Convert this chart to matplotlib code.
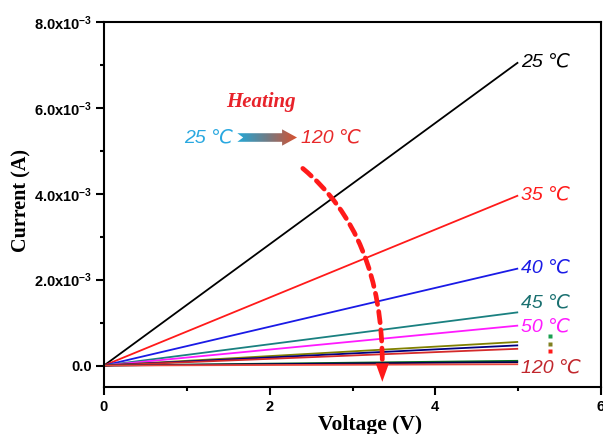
import numpy as np
import matplotlib
matplotlib.use("Agg")
import matplotlib.pyplot as plt
from matplotlib.path import Path
from matplotlib.patches import PathPatch, Polygon
from matplotlib.colors import LinearSegmentedColormap
from matplotlib.ticker import FixedLocator, FuncFormatter

# I-V data (current in A at 0 V and 5 V)
voltage = [0.0, 5.0]
temps = ["25", "35", "40", "45", "50", "55", "60", "70", "80", "100", "120"]
current_at_5v = [7.06e-3, 3.96e-3, 2.26e-3, 1.24e-3, 0.93e-3,
                 0.55e-3, 0.47e-3, 0.39e-3, 0.11e-3, 0.08e-3, 0.03e-3]
line_colors = ["black", "#ff1a1a", "#1a1ae6", "#1a8080", "#ff1aff",
               "#808000", "#000080", "#d42a2a", "#0a6e1e", "#000050", "#e8463c"]

# labels shown at the right end
label_temps = ["25", "35", "40", "45", "50", "120"]
label_y = [7.06e-3, 3.96e-3, 2.26e-3, 1.45e-3, 0.90e-3, -0.05e-3]
label_colors = ["black", "#ff1a1a", "#1a1ae6", "#1a7070", "#ff1aff", "#c1272d"]
dot_y = [0.68e-3, 0.51e-3, 0.35e-3]
dot_colors = ["#1aa050", "#808020", "#ff1a1a"]

sans = ["Liberation Sans", "DejaVu Sans"]
serif = ["Liberation Serif", "DejaVu Serif"]
plt.rcParams["mathtext.default"] = "regular"

fig = plt.figure(figsize=(6.03, 4.34), dpi=100)
ax = fig.add_axes([104 / 603, 1 - 387 / 434, 497 / 603, 365 / 434])

for v5, c in zip(current_at_5v, line_colors):
    ax.plot(voltage, [0.0, v5], color=c, lw=1.3, solid_capstyle="butt")

for t, y, c in zip(label_temps, label_y, label_colors):
    ax.text(5.03, y, t + " \u2103", color=c, fontsize=14, style="italic",
            family=sans, va="center", ha="left")
for y, c in zip(dot_y, dot_colors):
    ax.plot([5.39], [y], marker="s", ms=2.6, color=c, mec="none")

# Heating annotation
ax.text(1.9, 6.13e-3, "Heating", color="#e8222a", fontsize=15, weight="bold",
        style="italic", family=serif, ha="center", va="center")
ax.text(1.56, 5.31e-3, "25 \u2103", color="#29a8e0", fontsize=14, style="italic",
        family=sans, ha="right", va="center")
ax.text(2.38, 5.31e-3, "120 \u2103", color="#e8292a", fontsize=14, style="italic",
        family=sans, ha="left", va="center")

# gradient arrow 25 -> 120
yc = 5.31e-3
x0, xh, x1, notch = 1.61, 2.15, 2.33, 0.07
bh, hh = 0.10e-3, 0.19e-3
arrow_poly = Polygon([(x0, yc + bh), (xh, yc + bh), (xh, yc + hh), (x1, yc),
                      (xh, yc - hh), (xh, yc - bh), (x0, yc - bh), (x0 + notch, yc)],
                     closed=True, facecolor="none", edgecolor="none")
ax.add_patch(arrow_poly)
grad_cmap = LinearSegmentedColormap.from_list("g", ["#22a8d8", "#707c86", "#d8502e"])
im = ax.imshow(np.linspace(0, 1, 256)[None, :], cmap=grad_cmap, aspect="auto",
               extent=[x0, x1, yc - hh, yc + hh], zorder=3)
im.set_clip_path(arrow_poly)

# curved dashed arrow
p0, p1, p2 = (2.40, 4.59e-3), (3.36, 3.05e-3), (3.36, 0.05e-3)
curve = Path([p0, p1, p2], [Path.MOVETO, Path.CURVE3, Path.CURVE3])
ax.add_patch(PathPatch(curve, facecolor="none", edgecolor="#ff1a1a", lw=3.4,
                       linestyle=(0, (2.4, 1.5)), capstyle="round", zorder=4))
ax.add_patch(Polygon([(3.28, 0.05e-3), (3.44, 0.05e-3), (3.36, -0.38e-3)],
                     closed=True, facecolor="#ff1a1a", edgecolor="none", zorder=4))

ax.set_xlim(0, 6)
ax.set_ylim(-0.5e-3, 8e-3)
ax.xaxis.set_major_locator(FixedLocator([0, 2, 4, 6]))
ax.xaxis.set_minor_locator(FixedLocator([1, 3, 5]))
ax.yaxis.set_major_locator(FixedLocator([0, 2e-3, 4e-3, 6e-3, 8e-3]))
ax.yaxis.set_minor_locator(FixedLocator([1e-3, 3e-3, 5e-3, 7e-3]))


def yfmt(v, pos):
    if abs(v) < 1e-12:
        return "0.0"
    return "%.1fx10$^{-3}$" % (v * 1e3)


ax.yaxis.set_major_formatter(FuncFormatter(yfmt))
ax.xaxis.set_major_formatter(FuncFormatter(lambda v, p: "%d" % v))

for s in ax.spines.values():
    s.set_linewidth(1.5)
ax.tick_params(which="major", direction="out", length=5.5, width=1.5)
ax.tick_params(axis="x", which="major", pad=4)
ax.tick_params(axis="y", which="major", pad=3)
ax.tick_params(which="minor", direction="out", length=3, width=1.5)
for lab in ax.get_xticklabels() + ax.get_yticklabels():
    lab.set_family(sans)
    lab.set_fontweight("bold")
    lab.set_fontsize(10.5)

ax.set_xlabel("Voltage (V)", family=serif, weight="bold", fontsize=15.5)
ax.xaxis.set_label_coords(0.535, -0.078)
ax.set_ylabel("Current (A)", family=serif, weight="bold", fontsize=14.5)
ax.yaxis.set_label_coords(-0.145, 0.512)

fig.savefig("out.png", dpi=100)
